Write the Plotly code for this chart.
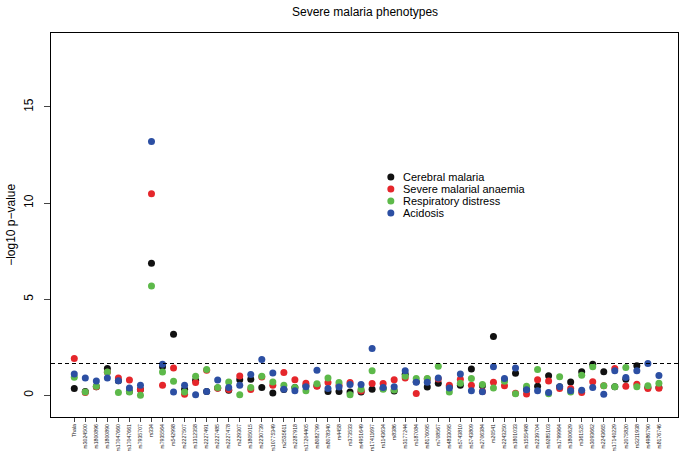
import plotly.graph_objects as go

snps = ["Thala", "rs3024500", "rs1800896", "rs1800890", "rs17047660", "rs17047661",
        "rs7935707", "rs334", "rs7935564", "rs542998", "rs2227507", "rs1312358",
        "rs2227491", "rs2227485", "rs2227478", "rs229307", "rs1805015", "rs2230739",
        "rs10775349", "rs2535611", "rs2287918", "rs17204405", "rs8082799", "rs8078340",
        "rs4458", "rs373533", "rs4951649", "rs17411697", "rs1143634", "rs8386",
        "rs3177244", "rs187084", "rs8176095", "rs708567", "rs4833095", "rs5743810",
        "rs5743809", "rs2706384", "rs20541", "rs2243250", "rs1801033", "rs1555498",
        "rs2239704", "rs9285103", "rs1799964", "rs1800629", "rs361525", "rs3093662",
        "rs2243665", "rs17140229", "rs2075820", "rs3211938", "rs4986790", "rs8176746"]

cerebral = [0.35, 0.20, 0.45, 1.39, 0.75, 0.20, 0.30, 6.87, 1.48, 3.18,
            0.31, 0.78, 0.20, 0.38, 0.26, 0.81, 0.83, 0.40, 0.12, 0.30,
            0.40, 0.50, 0.50, 0.20, 0.20, 0.17, 0.17, 0.31, 0.35, 0.22,
            1.09, 0.70, 0.43, 0.63, 0.45, 0.52, 1.37, 0.49, 3.06, 0.80,
            1.15, 0.30, 0.47, 1.02, 0.45, 0.69, 1.23, 1.61, 1.23, 0.45,
            0.83, 1.54, 0.40, 0.40]
anaemia = [1.91, 0.15, 0.45, 1.20, 0.90, 0.80, 0.30, 10.48, 0.52, 1.42,
           0.05, 0.66, 1.30, 0.37, 0.30, 1.00, 0.30, 0.95, 0.52, 1.18,
           0.81, 0.62, 0.47, 0.66, 0.52, 0.67, 0.22, 0.61, 0.61, 0.81,
           0.90, 0.09, 0.85, 0.85, 0.52, 0.83, 0.52, 0.20, 0.68, 0.49,
           0.10, 0.07, 0.81, 0.745, 0.35, 0.35, 0.15, 0.71, 0.50, 1.39,
           0.47, 0.57, 0.35, 0.36]
respiratory = [0.94, 0.17, 0.47, 1.215, 0.14, 0.17, 0.00, 5.69, 1.215, 0.73,
               0.17, 0.99, 1.34, 0.40, 0.69, 0.03, 0.40, 0.99, 0.69, 0.52,
               0.40, 0.24, 0.60, 0.90, 0.66, 0.03, 0.31, 1.27, 0.31, 0.28,
               0.99, 0.87, 0.87, 1.51, 0.17, 0.62, 0.87, 0.56, 0.38, 0.73,
               0.08, 0.47, 1.34, 0.08, 0.97, 0.17, 1.04, 1.48, 0.49, 0.45,
               1.44, 0.45, 0.50, 0.62]
acidosis = [1.11, 0.90, 0.745, 0.90, 0.76, 0.38, 0.52, 13.2, 1.62, 0.17,
            0.52, 0.03, 0.20, 0.79, 0.40, 0.52, 1.08, 1.86, 1.16, 0.31,
            0.24, 0.45, 1.30, 0.35, 0.43, 0.56, 0.56, 2.43, 0.40, 0.45,
            1.28, 0.68, 0.68, 0.90, 0.38, 1.11, 0.24, 0.19, 1.49, 0.87,
            1.42, 0.29, 0.24, 0.15, 0.45, 0.24, 0.26, 0.40, 0.05, 1.27,
            0.92, 1.27, 1.65, 1.03]

series_names = ["Cerebral malaria", "Severe malarial anaemia", "Respiratory distress", "Acidosis"]
series_values = [cerebral, anaemia, respiratory, acidosis]
colors = ["#111111", "#E5262B", "#5DB94A", "#2C4FA3"]
threshold = 1.65
yticks = [0, 5, 10, 15]

xpos = list(range(1, len(snps) + 1))
FONT = "Liberation Sans, Arial, Helvetica, sans-serif"

fig = go.Figure()
for name, vals, col in zip(series_names, series_values, colors):
    fig.add_trace(go.Scatter(x=xpos, y=vals, mode="markers", name=name, showlegend=False,
                             marker=dict(color=col, size=7, line=dict(width=0))))

fig.add_hline(y=threshold, line=dict(color="black", width=1.1, dash="4px,3px"))

# Compact R-style legend (no box), drawn on an overlay axis in plot-fraction units
leg_x_key = 0.542
leg_x_text = 0.559
leg_y_top = 0.625
leg_step = 0.0313
n = len(series_names)
fig.add_trace(go.Scatter(
    x=[leg_x_key] * n,
    y=[leg_y_top - k * leg_step for k in range(n)],
    mode="markers", showlegend=False, hoverinfo="skip",
    marker=dict(color=colors, size=7, line=dict(width=0)),
    xaxis="x2", yaxis="y2"))
for k, name in enumerate(series_names):
    fig.add_annotation(x=leg_x_text, y=leg_y_top - k * leg_step, xref="x2", yref="y2",
                       text=name, showarrow=False, xanchor="left", yanchor="middle",
                       font=dict(family=FONT, size=11, color="black"))

# Title as annotation above the plot box
fig.add_annotation(x=0.5, y=1.055, xref="paper", yref="paper", text="Severe malaria phenotypes",
                   showarrow=False, xanchor="center", yanchor="middle",
                   font=dict(family=FONT, size=12, color="black"))

# Y-axis title as a rotated annotation
fig.add_annotation(x=-0.064, y=0.5, xref="paper", yref="paper", text="\u2212log10 p\u2212value",
                   textangle=-90, showarrow=False, xanchor="center", yanchor="middle",
                   font=dict(family=FONT, size=12, color="black"))

fig.update_layout(
    width=687, height=451,
    margin=dict(l=51, r=9, t=33, b=34, autoexpand=False),
    paper_bgcolor="white", plot_bgcolor="white",
    font=dict(family=FONT, color="black"),
    showlegend=False,
    xaxis=dict(range=[-1.11, 55.73], tickmode="array", tickvals=xpos, ticktext=snps,
               tickangle=-90, tickfont=dict(family=FONT, size=5.2, color="#222222"),
               ticks="outside", ticklen=4,
               showgrid=False, zeroline=False, showline=True, linecolor="black",
               linewidth=1, mirror=True, automargin=False),
    yaxis=dict(range=[-1.13, 18.85], tickvals=yticks, tickangle=-90,
               tickfont=dict(family=FONT, size=12), ticks="outside", ticklen=6,
               ticklabelstandoff=6,
               showgrid=False, zeroline=False, showline=True, linecolor="black",
               linewidth=1, mirror=True, automargin=False),
    xaxis2=dict(range=[0, 1], overlaying="x", visible=False, fixedrange=True),
    yaxis2=dict(range=[0, 1], overlaying="y", visible=False, fixedrange=True),
)

fig.write_html("out.html", config={"displayModeBar": False},
               post_script="document.body.style.margin='0';")
